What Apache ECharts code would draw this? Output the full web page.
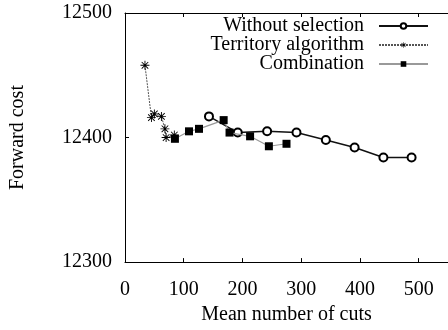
<!DOCTYPE html>
<html>
<head>
<meta charset="utf-8">
<script src="https://cdn.jsdelivr.net/npm/echarts@6/dist/echarts.min.js"></script>
<style>
  html, body { margin: 0; padding: 0; background: #fff; }
  #chart { width: 448px; height: 330px; }
</style>
</head>
<body>
<div id="chart"></div>
<script>
// Forward cost vs. mean number of cuts for three cut-selection strategies
const withoutSelection = [
  [143, 12417], [192, 12404], [242, 12405], [292, 12404],
  [342, 12398], [391, 12392], [440, 12384], [488, 12384]
];
const territoryAlgorithm = [
  [34, 12458], [45, 12416], [50, 12419], [62, 12417],
  [68, 12407], [70, 12400], [84, 12402]
];
const combination = [
  [85, 12399], [109, 12405], [126, 12407], [168, 12414],
  [178, 12404], [213, 12401], [245, 12393], [275, 12395]
];
const xTicks = [0, 100, 200, 300, 400, 500];
const yTicks = [12300, 12400, 12500];

const serif = '"Liberation Serif", "Times New Roman", serif';

// Asterisk marker built from four thin bars (all wound the same way)
const asterisk = 'path://M0,4.5H10V5.5H0Z M4.5,0H5.5V10H4.5Z ' +
  'M1,1.7L1.7,1L9,8.3L8.3,9Z M8.3,1L9,1.7L1.7,9L1,8.3Z';

const chart = echarts.init(document.getElementById('chart'), null, { renderer: 'canvas' });

const axisText = { fontFamily: serif, fontSize: 20, color: '#000' };
const plain = v => String(v);

chart.setOption({
  animation: false,
  backgroundColor: '#fff',
  grid: { left: 125, right: -5, top: 13, bottom: 64, containLabel: false },
  legend: {
    orient: 'vertical',
    right: 14,
    top: 11,
    align: 'right',
    itemWidth: 49,
    itemHeight: 7,
    itemGap: -1,
    textStyle: { fontFamily: serif, fontSize: 20, lineHeight: 19, color: '#000', padding: [0, 10, 0, 0] },
    data: ['Without selection', 'Territory algorithm', 'Combination']
  },
  xAxis: [{
    type: 'value',
    min: 0, max: 550, interval: 100,
    name: 'Mean number of cuts',
    nameLocation: 'middle',
    nameGap: 39,
    nameTextStyle: axisText,
    axisLine: { lineStyle: { color: '#000', width: 1 } },
    axisTick: { inside: true, length: 4, lineStyle: { color: '#000' } },
    axisLabel: Object.assign({ margin: 18, customValues: xTicks, formatter: plain }, axisText),
    splitLine: { show: false }
  }, {
    type: 'value',
    position: 'top',
    min: 0, max: 550, interval: 100,
    axisLine: { lineStyle: { color: '#000', width: 1 } },
    axisTick: { inside: true, length: 4, lineStyle: { color: '#000' } },
    axisLabel: { show: false },
    splitLine: { show: false }
  }],
  yAxis: {
    type: 'value',
    min: 12300, max: 12500, interval: 100,
    name: 'Forward cost',
    nameLocation: 'middle',
    nameGap: 97,
    nameTextStyle: axisText,
    axisLine: { show: true, lineStyle: { color: '#000', width: 1 } },
    axisTick: { show: true, inside: true, length: 4, lineStyle: { color: '#000' } },
    axisLabel: Object.assign({ margin: 13, customValues: yTicks, formatter: plain }, axisText),
    splitLine: { show: false }
  },
  series: [{
    name: 'Without selection',
    type: 'line',
    data: withoutSelection,
    symbol: 'emptyCircle',
    symbolSize: 8,
    itemStyle: { color: '#000', borderWidth: 1 },
    lineStyle: { color: '#111', width: 1.5 },
    z: 2
  }, {
    name: 'Territory algorithm',
    type: 'line',
    data: territoryAlgorithm,
    symbol: asterisk,
    symbolSize: 9,
    itemStyle: { color: '#000' },
    lineStyle: { color: '#555', width: 1, type: [2, 1] },
    z: 3
  }, {
    name: 'Combination',
    type: 'line',
    data: combination,
    symbol: 'rect',
    symbolSize: 8,
    itemStyle: { color: '#000' },
    lineStyle: { color: '#999', width: 1.2 },
    z: 4
  }]
});
</script>
</body>
</html>
